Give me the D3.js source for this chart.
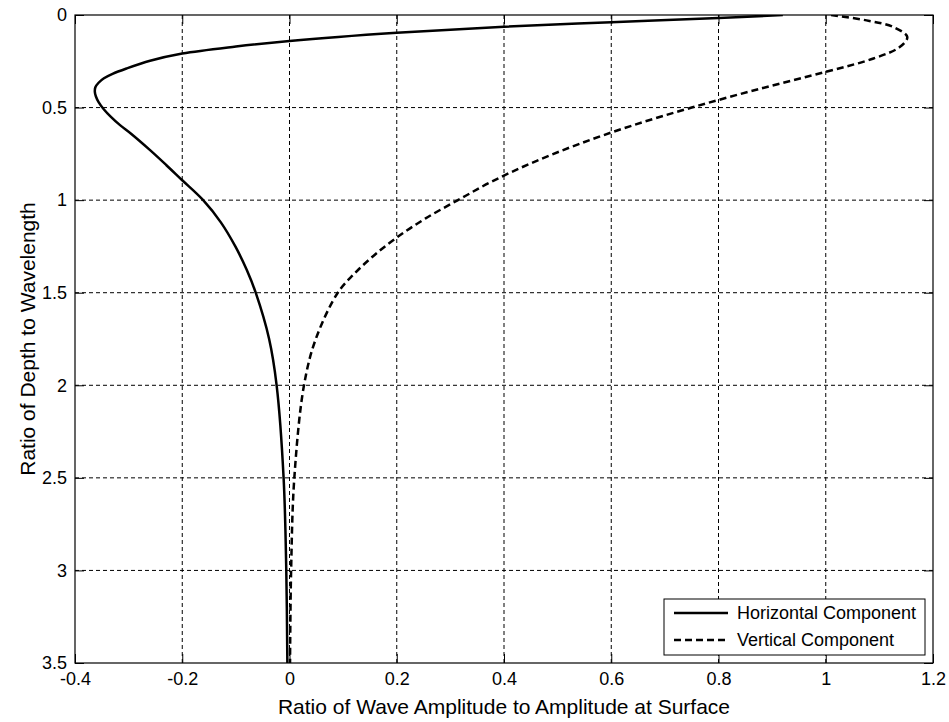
<!DOCTYPE html>
<html>
<head>
<meta charset="utf-8">
<script src="https://cdn.jsdelivr.net/npm/d3@7"></script>
<style>
  body { margin: 0; background: #fff; }
  svg { display: block; font-family: "Liberation Sans", Arial, sans-serif; }
</style>
</head>
<body>
<div id="chart"></div>
<script>
// values: amplitude ratio (x) against depth / wavelength (y)
const horizAmp   = [0.92, 0.8, 0.6, 0.4, 0.2, 0.0, -0.1, -0.2, -0.26, -0.304, -0.33, -0.346, -0.356, -0.362, -0.363, -0.361, -0.356, -0.346, -0.333, -0.316, -0.296, -0.26, -0.23, -0.201, -0.161, -0.128, -0.101, -0.08, -0.063, -0.038, -0.024, -0.011, -0.006, -0.004];
const horizDepth = [0.0, 0.016, 0.039, 0.063, 0.096, 0.14, 0.17, 0.208, 0.247, 0.289, 0.318, 0.342, 0.366, 0.39, 0.415, 0.44, 0.47, 0.51, 0.55, 0.595, 0.64, 0.73, 0.81, 0.89, 1.0, 1.12, 1.25, 1.375, 1.5, 1.75, 2.0, 2.5, 3.0, 3.5];

const vertAmp   = [1.01, 1.076, 1.126, 1.152, 1.138, 1.089, 1.0, 0.875, 0.75, 0.636, 0.537, 0.451, 0.377, 0.314, 0.253, 0.201, 0.157, 0.12, 0.09, 0.049, 0.027, 0.009, 0.003, 0.001];
const vertDepth = [0.0, 0.029, 0.065, 0.119, 0.173, 0.235, 0.307, 0.4, 0.5, 0.6, 0.7, 0.8, 0.9, 1.0, 1.1, 1.2, 1.3, 1.4, 1.5, 1.75, 2.0, 2.5, 3.0, 3.5];

const seriesNames = ["Horizontal Component", "Vertical Component"];
const xTicks = [-0.4, -0.2, 0, 0.2, 0.4, 0.6, 0.8, 1, 1.2];
const yTicks = [0, 0.5, 1, 1.5, 2, 2.5, 3, 3.5];
const xTitle = "Ratio of Wave Amplitude to Amplitude at Surface";
const yTitle = "Ratio of Depth to Wavelength";

const W = 949, H = 722;
const margin = { left: 75, right: 16, top: 15, bottom: 59 };
const pw = W - margin.left - margin.right;
const ph = H - margin.top - margin.bottom;

const svg = d3.select("#chart").append("svg")
  .attr("width", W)
  .attr("height", H);

const x = d3.scaleLinear().domain([-0.4, 1.2]).range([0, pw]);
const y = d3.scaleLinear().domain([0, 3.5]).range([0, ph]);

const g = svg.append("g")
  .attr("transform", `translate(${margin.left},${margin.top})`);

svg.append("defs").append("clipPath")
  .attr("id", "plotClip")
  .append("rect")
  .attr("width", pw)
  .attr("height", ph);

// grid (dotted, interior ticks only)
g.append("g").selectAll("line")
  .data(xTicks.slice(1, -1))
  .join("line")
  .attr("x1", d => x(d)).attr("x2", d => x(d))
  .attr("y1", 0).attr("y2", ph)
  .attr("stroke", "#000")
  .attr("stroke-width", 1)
  .attr("stroke-dasharray", "4,3");

g.append("g").selectAll("line")
  .data(yTicks.slice(1, -1))
  .join("line")
  .attr("y1", d => y(d)).attr("y2", d => y(d))
  .attr("x1", 0).attr("x2", pw)
  .attr("stroke", "#000")
  .attr("stroke-width", 1)
  .attr("stroke-dasharray", "4,3");

// curves
const line = d3.line()
  .x(d => x(d[0]))
  .y(d => y(d[1]))
  .curve(d3.curveCatmullRom.alpha(0.5));

const curves = g.append("g").attr("clip-path", "url(#plotClip)");

curves.append("path")
  .datum(d3.zip(horizAmp, horizDepth))
  .attr("d", line)
  .attr("fill", "none")
  .attr("stroke", "#000")
  .attr("stroke-width", 2.5);

curves.append("path")
  .datum(d3.zip(vertAmp, vertDepth))
  .attr("d", line)
  .attr("fill", "none")
  .attr("stroke", "#000")
  .attr("stroke-width", 2.5)
  .attr("stroke-dasharray", "7,4");

// axes, ticks pointing inward on all four sides
const tickLen = 9;
const fmt = d => String(d);

const xAxis = g.append("g")
  .attr("transform", `translate(0,${ph})`)
  .call(d3.axisBottom(x).tickValues(xTicks).tickFormat(fmt)
    .tickSizeInner(-tickLen).tickSizeOuter(0).tickPadding(9));

const yAxis = g.append("g")
  .call(d3.axisLeft(y).tickValues(yTicks).tickFormat(fmt)
    .tickSizeInner(-tickLen).tickSizeOuter(0).tickPadding(8));

g.append("g")
  .call(d3.axisTop(x).tickValues(xTicks).tickFormat("")
    .tickSizeInner(-tickLen).tickSizeOuter(0));

g.append("g")
  .attr("transform", `translate(${pw},0)`)
  .call(d3.axisRight(y).tickValues(yTicks).tickFormat("")
    .tickSizeInner(-tickLen).tickSizeOuter(0));

g.selectAll(".domain").remove();
g.selectAll(".tick line").attr("stroke", "#000");
[xAxis, yAxis].forEach(a => a.selectAll("text")
  .attr("font-family", "Liberation Sans, Arial, sans-serif")
  .attr("font-size", 18)
  .attr("fill", "#000"));

g.append("rect")
  .attr("width", pw)
  .attr("height", ph)
  .attr("fill", "none")
  .attr("stroke", "#000")
  .attr("stroke-width", 1.2);

// axis titles
svg.append("text")
  .attr("x", margin.left + pw / 2)
  .attr("y", 714)
  .attr("text-anchor", "middle")
  .attr("font-size", 21)
  .text(xTitle);

svg.append("text")
  .attr("transform", `translate(35,${margin.top + ph / 2}) rotate(-90)`)
  .attr("text-anchor", "middle")
  .attr("font-size", 21)
  .text(yTitle);

// legend
const lg = svg.append("g").attr("transform", "translate(664,599)");
lg.append("rect")
  .attr("width", 261)
  .attr("height", 56)
  .attr("fill", "#fff")
  .attr("stroke", "#000")
  .attr("stroke-width", 1);

seriesNames.forEach((name, i) => {
  const row = 14 + i * 27;
  lg.append("line")
    .attr("x1", 10).attr("x2", 64)
    .attr("y1", row).attr("y2", row)
    .attr("stroke", "#000")
    .attr("stroke-width", 2.5)
    .attr("stroke-dasharray", i === 1 ? "7,4" : null);
  lg.append("text")
    .attr("x", 73)
    .attr("y", row)
    .attr("dy", "0.35em")
    .attr("font-size", 18)
    .text(name);
});
</script>
</body>
</html>
